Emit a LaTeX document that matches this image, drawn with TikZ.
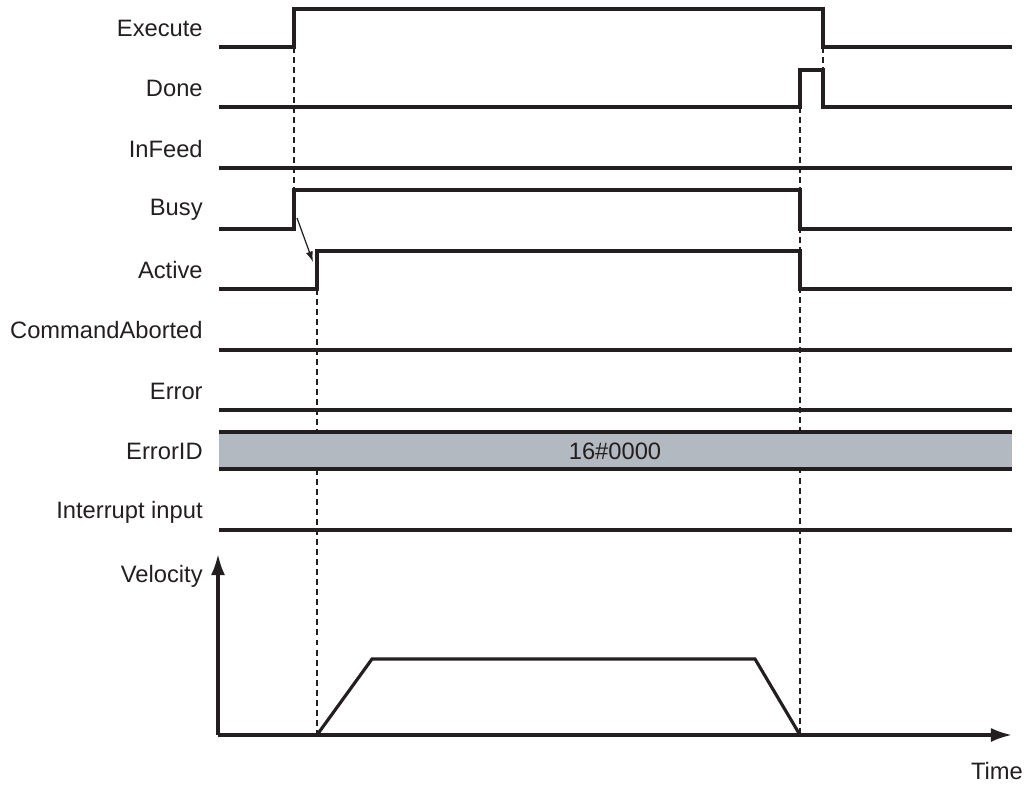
\documentclass[tikz,border=0pt]{standalone}
\usepackage{fontspec}
\setmainfont{Liberation Sans}
\usetikzlibrary{arrows.meta,positioning}

\definecolor{bandgray}{RGB}{179,185,192}
\definecolor{ink}{RGB}{35,31,32}

\begin{document}
\begin{tikzpicture}[
    x=0.02cm, y=-0.02cm,
    sigline/.style={ink, line width=1.8pt, line join=miter},
    guide/.style={ink, line width=0.6pt, dash pattern=on 3.4pt off 2.3pt},
    lbl/.style={anchor=east, inner sep=0pt, text=ink, font=\fontsize{13.5}{16}\selectfont},
    axis/.style={ink, line width=1.8pt, -{Latex[length=12pt,width=8pt]}}
  ]
  \useasboundingbox (0,0) rectangle (1027,786);

  % signal names
  \node[lbl] (lexec) at (203,28) {Execute};
  \node[lbl] (ldone) at (203,88) {Done};
  \node[lbl] (linfeed) at (203,149) {InFeed};
  \node[lbl] (lbusy) at (203,210) {Busy};
  \node[lbl] (lactive) at (203,270) {Active};
  \node[lbl] (labort) at (203,330) {CommandAborted};
  \node[lbl] (lerror) at (203,391) {Error};
  \node[lbl] (lerrid) at (203,451) {ErrorID};
  \node[lbl] (lintr) at (203,512) {Interrupt input};
  \node[lbl] (lvel) at (203,576) {Velocity};
  \node[font=\fontsize{13.5}{16}\selectfont, text=ink, inner sep=0pt] (ltime) at (997,771) {Time};

  % timing guides
  \draw[guide] (294,47) -- (294,190);
  \draw[guide] (317,289) -- (317,735);
  \draw[guide] (800,107) -- (800,735);
  \draw[guide] (823,47) -- (823,70);

  % waveforms
  \draw[sigline] (219,47) -- (294,47) -- (294,9) -- (823,9) -- (823,47) -- (1012,47);
  \draw[sigline] (219,107) -- (800,107) -- (800,70) -- (823,70) -- (823,107) -- (1012,107);
  \draw[sigline] (219,168) -- (1012,168);
  \draw[sigline] (219,229) -- (294,229) -- (294,190) -- (800,190) -- (800,229) -- (1012,229);
  \draw[sigline] (219,289) -- (317,289) -- (317,251) -- (800,251) -- (800,289) -- (1012,289);
  \draw[sigline] (219,350) -- (1012,350);
  \draw[sigline] (219,410) -- (1012,410);

  % ErrorID band
  \fill[bandgray] (219,432) rectangle (1012,469);
  \draw[sigline] (219,432) -- (1012,432);
  \draw[sigline] (219,469) -- (1012,469);
  \node[font=\fontsize{13.5}{16}\selectfont, text=ink, inner sep=0pt] (errval) at (615,451) {16\#0000};

  \draw[sigline] (219,530) -- (1012,530);

  % Busy -> Active
  \coordinate (busyrise) at (297,218);
  \coordinate (actrise) at (313,262);
  \draw[ink, line width=0.7pt, -{Latex[length=6pt,width=4pt]}] (busyrise) -- (actrise);

  % velocity profile
  \coordinate (origin) at (218,735);
  \coordinate (vtop) at (218,554);
  \coordinate (tend) at (1012,735);
  \draw[axis] (origin) -- (vtop);
  \draw[axis] (origin) -- (tend);
  \draw[sigline] (317,735) -- (372,659) -- (755,659) -- (800,735);
\end{tikzpicture}
\end{document}
